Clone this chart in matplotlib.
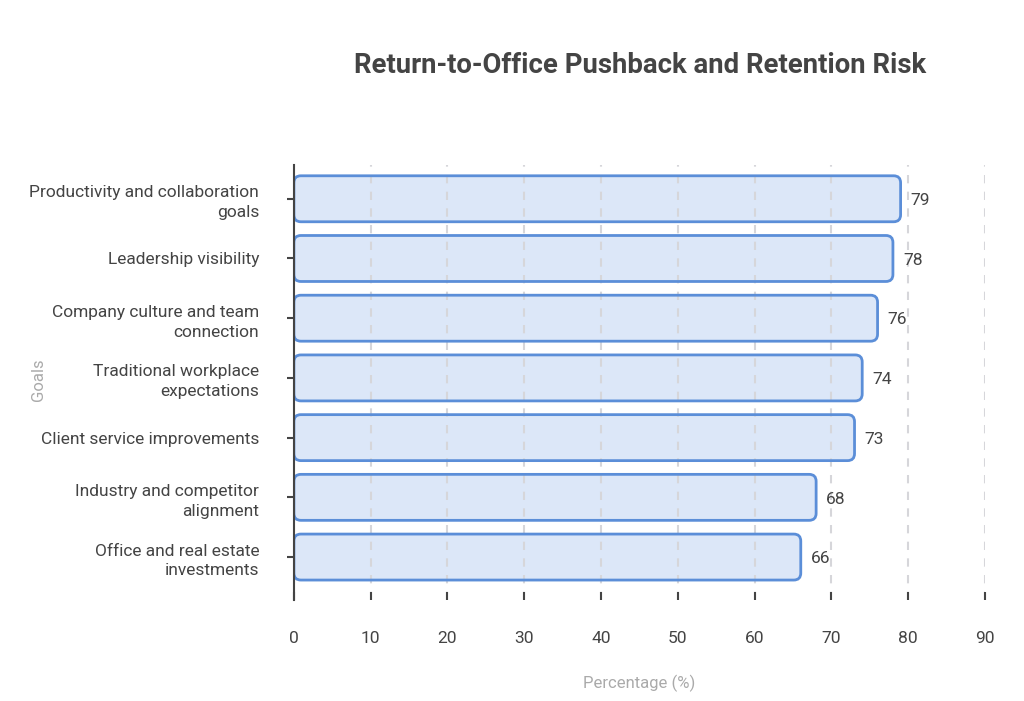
import matplotlib
matplotlib.use("Agg")
import matplotlib.pyplot as plt
from matplotlib.patches import FancyBboxPatch

plt.rcParams['font.family'] = ['Roboto', 'DejaVu Sans']

# datos del grafico
categorias = ["Productivity and collaboration\ngoals",
              "Leadership visibility",
              "Company culture and team\nconnection",
              "Traditional workplace\nexpectations",
              "Client service improvements",
              "Industry and competitor\nalignment",
              "Office and real estate\ninvestments"]
valores = [79, 78, 76, 74, 73, 68, 66]
xticks = [0, 10, 20, 30, 40, 50, 60, 70, 80, 90]

texto = '#444444'
gris = '#aaaaaa'
relleno = '#dce7f8'
borde = '#5b8ed8'

fig = plt.figure(figsize=(10.24, 7.01), dpi=100)
ax = fig.add_axes([0.287, 0.144, 0.675, 0.621])

xmin, xmax = 0, 90
ymin, ymax = 6.72, -0.57
ax.set_xlim(xmin, xmax)
ax.set_ylim(ymin, ymax)

# aspecto para esquinas redondeadas
W = 0.675 * 1024
H = 0.621 * 701
px_x = W / (xmax - xmin)
px_y = H / abs(ymin - ymax)
asp = px_x / px_y
radio = 7 / px_x

alto = 0.77
estilo = "round,pad=0,rounding_size=%f" % radio
for i, v in enumerate(valores):
    # relleno abajo, grilla en medio, borde arriba
    ax.add_patch(FancyBboxPatch((0, i - alto / 2), v, alto, boxstyle=estilo,
                                mutation_aspect=asp, facecolor=relleno,
                                edgecolor='none', zorder=1))
    ax.add_patch(FancyBboxPatch((0, i - alto / 2), v, alto, boxstyle=estilo,
                                mutation_aspect=asp, facecolor='none',
                                edgecolor=borde, linewidth=2, zorder=3))
    ax.text(v + 1.3, i + 0.03, str(v), va='center', ha='left', fontsize=12.5,
            color=texto, zorder=4)

ax.set_xticks(xticks)
ax.set_yticks(range(len(categorias)))
ax.set_yticklabels(categorias, fontsize=12.5, color=texto, linespacing=1.4)
ax.tick_params(axis='x', direction='in', length=6, width=1.5, color=texto,
               pad=22, labelsize=12.5, labelcolor=texto)
ax.tick_params(axis='y', direction='out', length=5, width=1.5, color=texto,
               pad=20)
for t in ax.get_yticklabels():
    t.set_multialignment('right')

for s in ['top', 'right', 'bottom']:
    ax.spines[s].set_visible(False)
ax.spines['left'].set_color(texto)
ax.spines['left'].set_linewidth(1.5)
ax.spines['left'].set_zorder(5)

ax.grid(axis='x', linestyle=(0, (4, 4)), color='#d6d6da', linewidth=1.5, zorder=2)
ax.set_axisbelow(False)
for g in ax.get_xgridlines():
    g.set_zorder(2)

ax.set_xlabel('Percentage (%)', fontsize=12, color=gris)
ax.xaxis.set_label_coords(0.5, -0.172)
ax.set_ylabel('Goals', fontsize=12, color=gris)
ax.yaxis.set_label_coords(-0.358, 0.506)

fig.text(0.625, 0.906, 'Return-to-Office Pushback and Retention Risk',
         ha='center', va='center', fontsize=19.8, fontweight='bold', color=texto)

plt.savefig('out.png', dpi=100)
